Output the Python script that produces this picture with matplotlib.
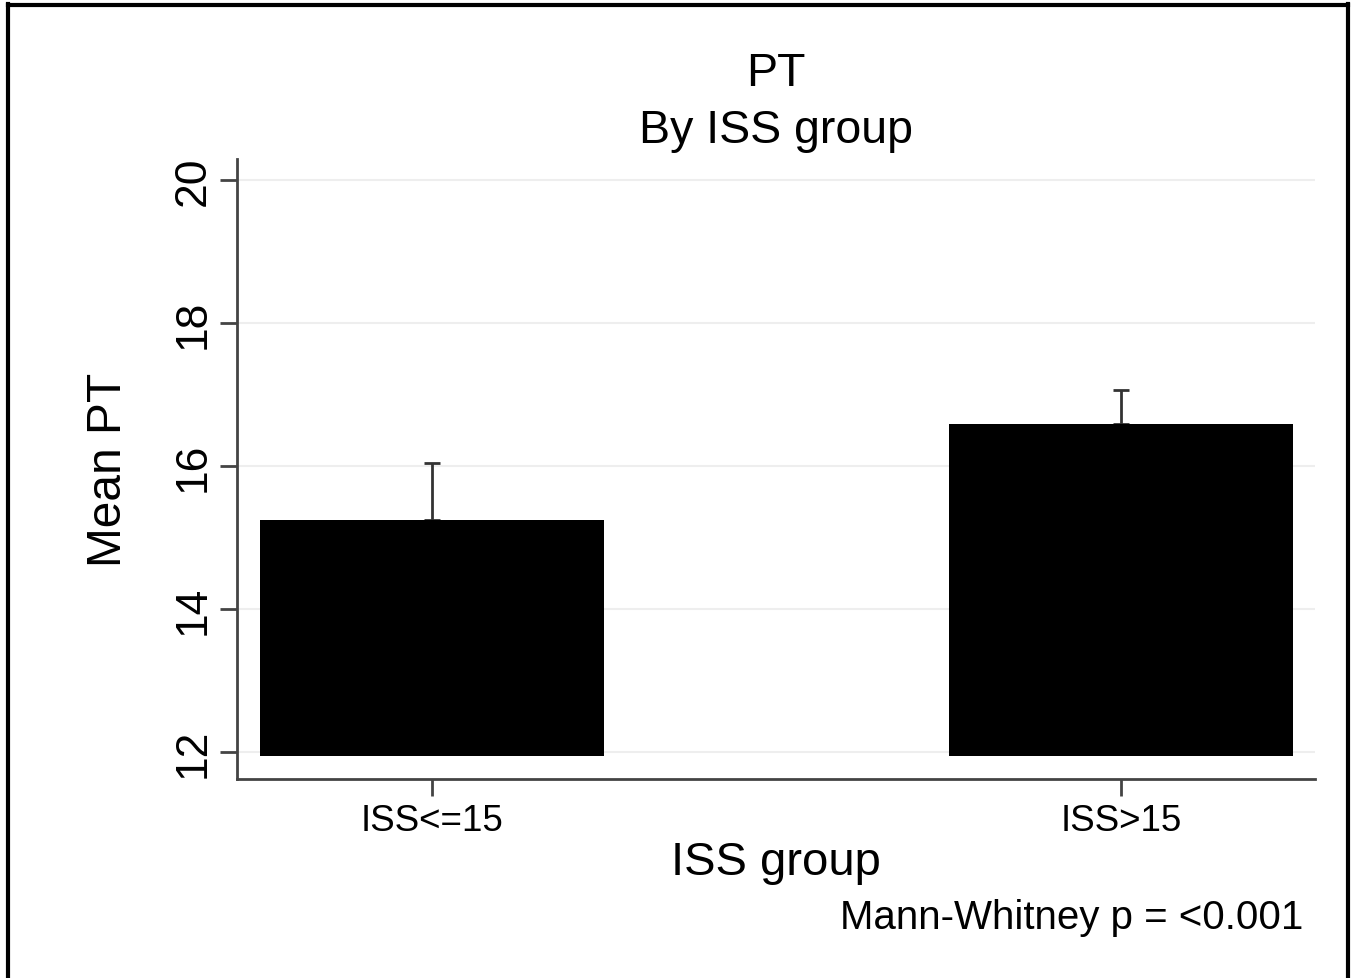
import matplotlib.pyplot as plt

groups = ['ISS<=15', 'ISS>15']
means = [15.25, 16.59]
err_up = [0.80, 0.47]
base = 11.95
yticks = [12, 14, 16, 18, 20]

plt.rcParams['font.family'] = ['Liberation Sans', 'DejaVu Sans']

fig = plt.figure(figsize=(13.57, 9.79), dpi=100)
ax = fig.add_axes([237/1357, 1-780/979, (1315-237)/1357, (780-160)/979])

x = range(len(groups))
heights = [m - base for m in means]
ax.bar(x, heights, bottom=base, width=0.50, color='black', zorder=3)
ax.errorbar(x, means, yerr=[[0]*len(means), err_up], fmt='none',
            ecolor='#333333', elinewidth=2, capsize=6, capthick=2, zorder=2)

ax.set_xlim(-0.283, 1.2816)
ax.set_ylim(11.622, 20.30)
ax.set_xticks(list(x))
ax.set_xticklabels(groups, fontsize=26.5)
ax.set_yticks(yticks)
ax.set_yticklabels([str(t) for t in yticks], fontsize=32, rotation=90, va='center')
ax.yaxis.grid(True, color='#eeeeee', linewidth=1.5, zorder=0)
ax.set_axisbelow(True)

for s in ['top', 'right']:
    ax.spines[s].set_visible(False)
for s in ['left', 'bottom']:
    ax.spines[s].set_color('#444444')
    ax.spines[s].set_linewidth(2)
ax.tick_params(axis='both', length=12, width=2, color='#444444', pad=5)

ax.set_ylabel('Mean PT', fontsize=34.5, labelpad=30)
ax.set_xlabel('ISS group', fontsize=34, labelpad=2)
ax.set_title('PT\nBy ISS group', fontsize=33.5, pad=12, linespacing=1.4)

fig.text(1303/1357, 1-918/979, 'Mann-Whitney p = <0.001', fontsize=29,
         ha='right', va='center')

# frame round the figure
fig.add_artist(plt.Line2D([8/1357, 8/1357], [0, 1-5/979], color='black', lw=3))
fig.add_artist(plt.Line2D([8/1357, 1348/1357], [1-6/979, 1-6/979], color='black', lw=3))
fig.add_artist(plt.Line2D([1348/1357, 1348/1357], [0, 1-5/979], color='black', lw=3))

fig.savefig('out.png', dpi=100)
